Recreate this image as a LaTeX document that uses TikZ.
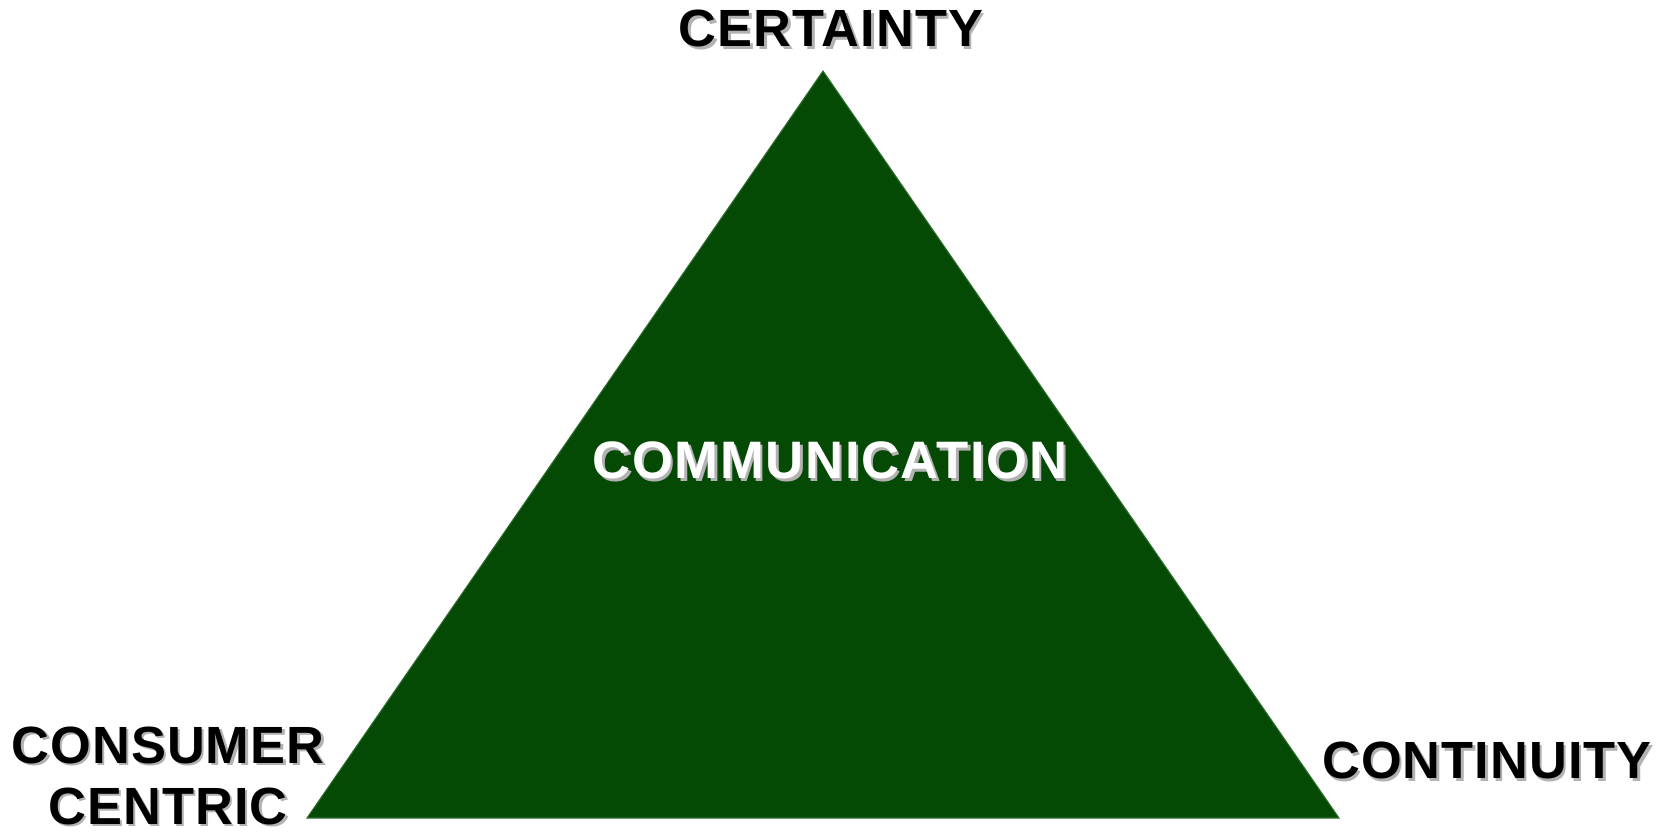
\documentclass[tikz,border=0pt]{standalone}
\usepackage{fontspec}
\setmainfont{Liberation Sans}
\usepackage{xcolor}
\usepackage{tikz}
\definecolor{leafgreen}{HTML}{044A04}
\definecolor{edgegreen}{HTML}{2E6E2E}
% text with a soft grey drop shadow
\newcommand{\shtxt}[1]{\makebox[0pt][l]{\hspace{0.7pt}\raisebox{-0.7pt}{\textcolor{black!30}{#1}}}#1}

\begin{document}
\begin{tikzpicture}[
    corner/.style={font=\fontsize{14.9}{17.4}\selectfont\bfseries\addfontfeature{LetterSpace=2}, align=center, inner sep=0pt, text=black},
    inside/.style={font=\fontsize{15}{18}\selectfont\bfseries\addfontfeature{LetterSpace=3}, inner sep=0pt, text=white}
]
\useasboundingbox (0,0) rectangle (16.70,8.33);

% Triangle
\coordinate (apex) at (8.23,7.62);
\coordinate (baseL) at (3.07,0.15);
\coordinate (baseR) at (13.39,0.15);
\fill[leafgreen, draw=edgegreen, line width=0.3pt] (apex) -- (baseR) -- (baseL) -- cycle;

% Corner labels
\node[corner] (certainty) at (8.31,8.03) {\shtxt{CERTAINTY}};
\node[corner] (consumer) at (1.68,0.56) {\shtxt{CONSUMER}\\\shtxt{CENTRIC}};
\node[corner] (continuity) at (14.87,0.71) {\shtxt{CONTINUITY}};

% Centre label
\node[inside] (comm) at (8.30,3.71) {\shtxt{COMMUNICATION}};
\end{tikzpicture}
\end{document}
